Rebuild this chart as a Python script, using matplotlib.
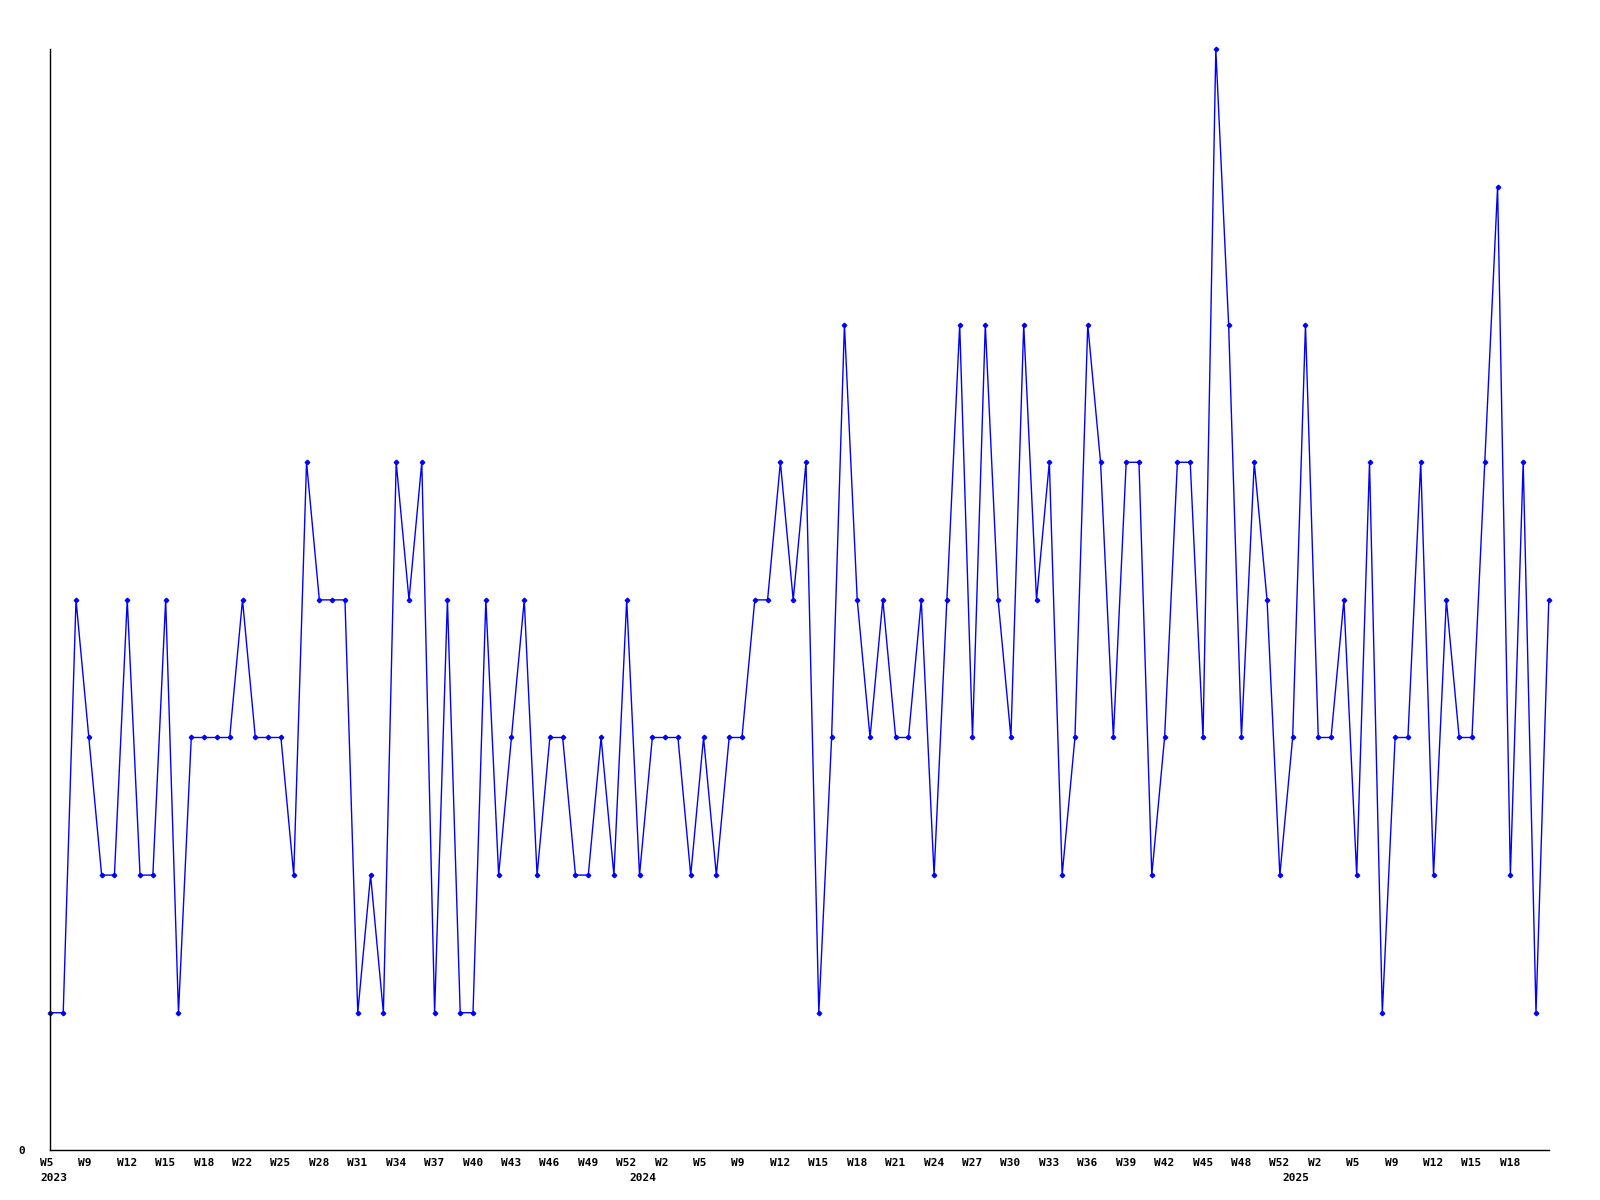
import matplotlib
matplotlib.use("Agg")
import matplotlib.pyplot as plt
from matplotlib.transforms import ScaledTranslation

# Weekly values, 2023 W5 .. 2025 W18
values = [1, 1, 4, 3, 2, 2, 4, 2, 2, 4,
          1, 3, 3, 3, 3, 4, 3, 3, 3, 2,
          5, 4, 4, 4, 1, 2, 1, 5, 4, 5,
          1, 4, 1, 1, 4, 2, 3, 4, 2, 3,
          3, 2, 2, 3, 2, 4, 2, 3, 3, 3,
          2, 3, 2, 3, 3, 4, 4, 5, 4, 5,
          1, 3, 6, 4, 3, 4, 3, 3, 4, 2,
          4, 6, 3, 6, 4, 3, 6, 4, 5, 2,
          3, 6, 5, 3, 5, 5, 2, 3, 5, 5,
          3, 8, 6, 3, 5, 4, 2, 3, 6, 3,
          3, 4, 2, 5, 1, 3, 3, 5, 2, 4,
          3, 3, 5, 7, 2, 5, 1, 4]

week_labels = ["W5", "W9", "W12", "W15", "W18", "W22", "W25", "W28", "W31",
               "W34", "W37", "W40", "W43", "W46", "W49", "W52",
               "W2", "W5", "W9", "W12", "W15", "W18", "W21", "W24", "W27",
               "W30", "W33", "W36", "W39", "W42", "W45", "W48", "W52",
               "W2", "W5", "W9", "W12", "W15", "W18"]
year_labels = ["2023", "2024", "2025"]
year_label_index = [0, 15, 32]  # week label after which each year starts

x = list(range(len(values)))

fig = plt.figure(figsize=(16, 12), dpi=100)
ax = fig.add_axes([0.0315, 0.0414, 0.9365, 0.9174])

ax.plot(x, values, color="#0000FF", linewidth=1.0, marker="D",
        markersize=2.3, markerfacecolor="#0000FF", markeredgecolor="#0000FF",
        clip_on=False)

for s in ["top", "right"]:
    ax.spines[s].set_visible(False)
for s in ["left", "bottom"]:
    ax.spines[s].set_color("black")
    ax.spines[s].set_linewidth(1.0)

font = dict(family="DejaVu Sans Mono", weight="bold", size=8)

step = 3
tick_pos = [step * k for k in range(len(week_labels))]
ax.set_xticks(tick_pos)
ax.set_xticklabels(week_labels, ha="left", **font)
ax.tick_params(axis="x", length=0, pad=5.5)
shift = ScaledTranslation(-10.5 / 100, 0, fig.dpi_scale_trans)
for t in ax.get_xticklabels():
    t.set_transform(t.get_transform() + shift)

ax.set_yticks([0])
ax.set_yticklabels(["0"], **font)
ax.tick_params(axis="y", length=0, pad=18)

ax.set_xlim(0, len(values) - 1)
ax.set_ylim(0, 8)

for lbl, idx in zip(year_labels, year_label_index):
    xp = tick_pos[idx] + (0 if idx == 0 else 1.0)
    ax.annotate(lbl, xy=(xp, 0), xycoords=("data", "axes fraction"),
                xytext=(-7.56, -16.2), textcoords="offset points",
                ha="left", va="top", annotation_clip=False, **font)

fig.savefig("out.png", dpi=100)
